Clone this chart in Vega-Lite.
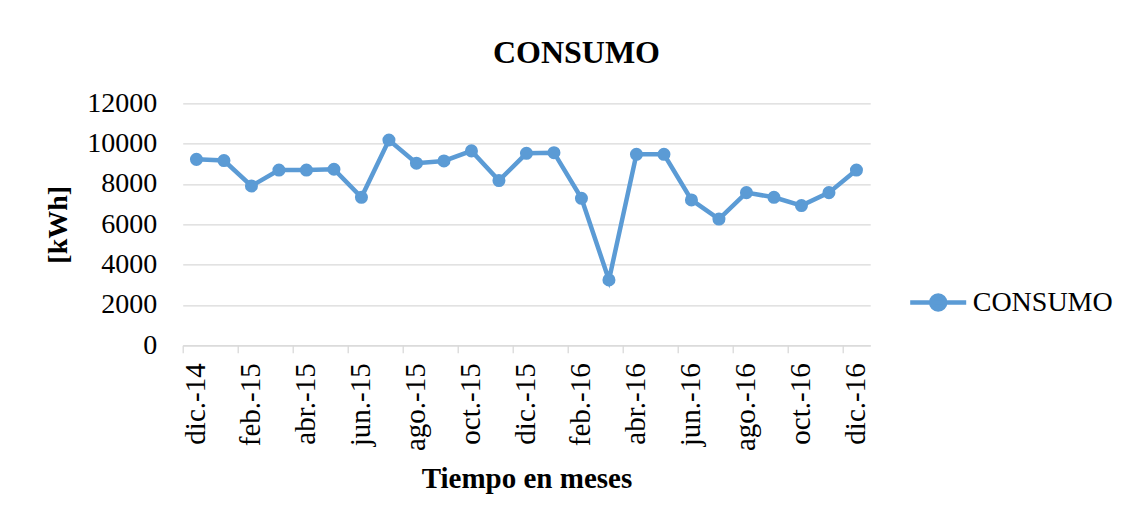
{
  "$schema": "https://vega.github.io/schema/vega-lite/v6.json",
  "width": 687.5,
  "height": 242,
  "autosize": "none",
  "padding": {"left": 182.7, "top": 103.3, "right": 260.8, "bottom": 174.7},
  "background": "#ffffff",
  "config": {
    "font": "Liberation Serif",
    "view": {"stroke": null}
  },
  "title": {
    "text": "CONSUMO",
    "font": "Liberation Serif",
    "fontSize": 32,
    "fontWeight": "bold",
    "color": "#000000",
    "anchor": "middle",
    "dx": 50,
    "offset": 19
  },
  "data": {
    "values": [
      {"mes": "dic.-14", "consumo": 9220},
      {"mes": "ene.-15", "consumo": 9160},
      {"mes": "feb.-15", "consumo": 7900},
      {"mes": "mar.-15", "consumo": 8690},
      {"mes": "abr.-15", "consumo": 8690},
      {"mes": "may.-15", "consumo": 8730},
      {"mes": "jun.-15", "consumo": 7340},
      {"mes": "jul.-15", "consumo": 10180},
      {"mes": "ago.-15", "consumo": 9030},
      {"mes": "sep.-15", "consumo": 9140},
      {"mes": "oct.-15", "consumo": 9640},
      {"mes": "nov.-15", "consumo": 8170},
      {"mes": "dic.-15", "consumo": 9520},
      {"mes": "ene.-16", "consumo": 9550},
      {"mes": "feb.-16", "consumo": 7290},
      {"mes": "mar.-16", "consumo": 3240},
      {"mes": "abr.-16", "consumo": 9470},
      {"mes": "may.-16", "consumo": 9470},
      {"mes": "jun.-16", "consumo": 7210},
      {"mes": "jul.-16", "consumo": 6260},
      {"mes": "ago.-16", "consumo": 7570},
      {"mes": "sep.-16", "consumo": 7340},
      {"mes": "oct.-16", "consumo": 6930},
      {"mes": "nov.-16", "consumo": 7570},
      {"mes": "dic.-16", "consumo": 8690}
    ]
  },
  "mark": {
    "type": "line",
    "strokeWidth": 4.5,
    "point": {"filled": true, "size": 170, "opacity": 1}
  },
  "encoding": {
    "x": {
      "field": "mes",
      "type": "ordinal",
      "sort": null,
      "bandPosition": 0.5,
      "scale": {"type": "band", "paddingInner": 0, "paddingOuter": 0},
      "axis": {
        "title": "Tiempo en meses",
        "titleFont": "Liberation Serif",
        "titleFontSize": 29,
        "titleFontWeight": "bold",
        "titleColor": "#000000",
        "titlePadding": 14,
        "values": ["dic.-14", "feb.-15", "abr.-15", "jun.-15", "ago.-15", "oct.-15", "dic.-15", "feb.-16", "abr.-16", "jun.-16", "ago.-16", "oct.-16", "dic.-16"],
        "bandPosition": 0,
        "labelAngle": -90,
        "labelFont": "Liberation Serif",
        "labelFontSize": 29,
        "labelColor": "#000000",
        "labelPadding": 10,
        "labelBaseline": "middle",
        "domainColor": "#d9d9d9",
        "domainWidth": 1.3,
        "tickColor": "#d9d9d9",
        "tickWidth": 1.3,
        "tickSize": 7.5,
        "grid": false
      }
    },
    "y": {
      "field": "consumo",
      "type": "quantitative",
      "scale": {"domain": [0, 12000], "nice": false, "zero": true},
      "axis": {
        "title": "[kWh]",
        "titleFont": "Liberation Serif",
        "titleFontSize": 28,
        "titleFontWeight": "bold",
        "titleColor": "#000000",
        "titlePadding": 14,
        "values": [0, 2000, 4000, 6000, 8000, 10000, 12000],
        "format": "d",
        "labelFont": "Liberation Serif",
        "labelFontSize": 28,
        "labelColor": "#000000",
        "labelPadding": 26,
        "domain": false,
        "ticks": false,
        "gridColor": "#d9d9d9",
        "gridWidth": 1.3
      }
    },
    "color": {
      "datum": "CONSUMO",
      "scale": {"range": ["#5B9BD5"]},
      "legend": {
        "title": null,
        "orient": "none",
        "legendX": 725,
        "legendY": 168.7,
        "labelFont": "Liberation Serif",
        "labelFontSize": 28,
        "labelColor": "#000000",
        "labelOffset": 4,
        "symbolSize": 3136,
        "encode": {
          "symbols": {
            "update": {
              "shape": {"value": "M-1,0L1,0M-0.25,0A0.25,0.25,0,1,0,0.25,0A0.25,0.25,0,1,0,-0.25,0Z"},
              "fill": {"value": "#5B9BD5"},
              "stroke": {"value": "#5B9BD5"},
              "strokeWidth": {"value": 4.5},
              "size": {"value": 3136},
              "opacity": {"value": 1}
            }
          }
        }
      }
    }
  }
}
